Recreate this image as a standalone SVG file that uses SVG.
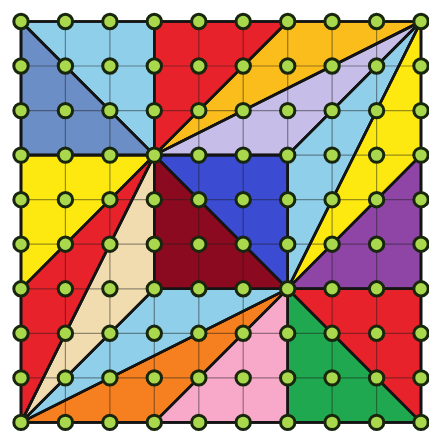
<svg xmlns="http://www.w3.org/2000/svg" width="429" height="434" viewBox="0 0 429 434">
<style>
.e{stroke:#141414;stroke-width:2.6;stroke-linejoin:round}
.g{stroke:#1a1a1a;stroke-opacity:0.45;stroke-width:1.2}
.d{fill:#a9d84c;stroke:#17260c;stroke-width:3}
</style>
<defs>
<circle id="dot" r="7.2" class="d"/>
</defs>
<rect width="429" height="434" fill="#fff"/>
<g id="regions" class="e">
<polygon id="tl-lightblue" points="21,21.5 154.3,21.5 154.3,155.1" fill="#8fcfe9"/>
<polygon id="tl-steel" points="21,21.5 154.3,155.1 21,155.1" fill="#6c8ec6"/>
<polygon id="top-red" points="154.3,21.5 287.7,21.5 154.3,155.1" fill="#e8222b"/>
<polygon id="top-orange" points="287.7,21.5 421,21.5 154.3,155.1" fill="#fbbd1c"/>
<polygon id="lavender" points="154.3,155.1 421,21.5 287.7,155.1" fill="#c6bee8"/>
<polygon id="right-lightblue" points="421,21.5 287.7,155.1 287.7,288.8" fill="#8fcfe9"/>
<polygon id="right-yellow" points="421,21.5 421,155.1 287.7,288.8" fill="#fde910"/>
<polygon id="purple" points="421,155.1 421,288.8 287.7,288.8" fill="#8f45a6"/>
<polygon id="br-red" points="287.7,288.8 421,288.8 421,422.4" fill="#e8222b"/>
<polygon id="br-green" points="287.7,288.8 421,422.4 287.7,422.4" fill="#1fa84f"/>
<polygon id="pink" points="287.7,288.8 287.7,422.4 154.3,422.4" fill="#f8a9c9"/>
<polygon id="bottom-orange" points="21,422.4 154.3,422.4 287.7,288.8" fill="#f6801f"/>
<polygon id="bottom-lightblue" points="21,422.4 287.7,288.8 154.3,288.8" fill="#8fcfe9"/>
<polygon id="beige" points="21,422.4 154.3,288.8 154.3,155.1" fill="#f1dcb0"/>
<polygon id="left-red" points="21,422.4 154.3,155.1 21,288.8" fill="#e8222b"/>
<polygon id="left-yellow" points="21,155.1 154.3,155.1 21,288.8" fill="#fde910"/>
<polygon id="center-blue" points="154.3,155.1 287.7,155.1 287.7,288.8" fill="#3b4bd2"/>
<polygon id="center-darkred" points="154.3,155.1 287.7,288.8 154.3,288.8" fill="#8c0a1f"/>
</g>
<g id="grid" class="g">
<line x1="65.4" y1="21.5" x2="65.4" y2="422.4"/>
<line x1="109.9" y1="21.5" x2="109.9" y2="422.4"/>
<line x1="154.3" y1="21.5" x2="154.3" y2="422.4"/>
<line x1="198.8" y1="21.5" x2="198.8" y2="422.4"/>
<line x1="243.2" y1="21.5" x2="243.2" y2="422.4"/>
<line x1="287.7" y1="21.5" x2="287.7" y2="422.4"/>
<line x1="332.1" y1="21.5" x2="332.1" y2="422.4"/>
<line x1="376.6" y1="21.5" x2="376.6" y2="422.4"/>
<line x1="21" y1="66" x2="421" y2="66"/>
<line x1="21" y1="110.6" x2="421" y2="110.6"/>
<line x1="21" y1="155.1" x2="421" y2="155.1"/>
<line x1="21" y1="199.7" x2="421" y2="199.7"/>
<line x1="21" y1="244.2" x2="421" y2="244.2"/>
<line x1="21" y1="288.8" x2="421" y2="288.8"/>
<line x1="21" y1="333.3" x2="421" y2="333.3"/>
<line x1="21" y1="377.9" x2="421" y2="377.9"/>
</g>
<g id="edges" class="e" fill="none">
<rect x="21" y="21.5" width="400" height="400.9"/>
<polyline points="21,21.5 154.3,155.1 287.7,288.8 421,422.4"/>
<polyline points="154.3,21.5 154.3,288.8"/>
<polyline points="21,155.1 287.7,155.1 287.7,422.4"/>
<polyline points="154.3,288.8 287.7,288.8 421,288.8"/>
<polyline points="287.7,21.5 154.3,155.1 421,21.5 287.7,155.1"/>
<polyline points="421,21.5 287.7,288.8 421,155.1"/>
<polyline points="21,288.8 154.3,155.1 21,422.4 154.3,288.8"/>
<polyline points="21,422.4 287.7,288.8 154.3,422.4"/>
</g>
<g id="dots">
<use href="#dot" x="21" y="21.5"/><use href="#dot" x="65.4" y="21.5"/><use href="#dot" x="109.9" y="21.5"/><use href="#dot" x="154.3" y="21.5"/><use href="#dot" x="198.8" y="21.5"/><use href="#dot" x="243.2" y="21.5"/><use href="#dot" x="287.7" y="21.5"/><use href="#dot" x="332.1" y="21.5"/><use href="#dot" x="376.6" y="21.5"/><use href="#dot" x="421" y="21.5"/>
<use href="#dot" x="21" y="66"/><use href="#dot" x="65.4" y="66"/><use href="#dot" x="109.9" y="66"/><use href="#dot" x="154.3" y="66"/><use href="#dot" x="198.8" y="66"/><use href="#dot" x="243.2" y="66"/><use href="#dot" x="287.7" y="66"/><use href="#dot" x="332.1" y="66"/><use href="#dot" x="376.6" y="66"/><use href="#dot" x="421" y="66"/>
<use href="#dot" x="21" y="110.6"/><use href="#dot" x="65.4" y="110.6"/><use href="#dot" x="109.9" y="110.6"/><use href="#dot" x="154.3" y="110.6"/><use href="#dot" x="198.8" y="110.6"/><use href="#dot" x="243.2" y="110.6"/><use href="#dot" x="287.7" y="110.6"/><use href="#dot" x="332.1" y="110.6"/><use href="#dot" x="376.6" y="110.6"/><use href="#dot" x="421" y="110.6"/>
<use href="#dot" x="21" y="155.1"/><use href="#dot" x="65.4" y="155.1"/><use href="#dot" x="109.9" y="155.1"/><use href="#dot" x="154.3" y="155.1"/><use href="#dot" x="198.8" y="155.1"/><use href="#dot" x="243.2" y="155.1"/><use href="#dot" x="287.7" y="155.1"/><use href="#dot" x="332.1" y="155.1"/><use href="#dot" x="376.6" y="155.1"/><use href="#dot" x="421" y="155.1"/>
<use href="#dot" x="21" y="199.7"/><use href="#dot" x="65.4" y="199.7"/><use href="#dot" x="109.9" y="199.7"/><use href="#dot" x="154.3" y="199.7"/><use href="#dot" x="198.8" y="199.7"/><use href="#dot" x="243.2" y="199.7"/><use href="#dot" x="287.7" y="199.7"/><use href="#dot" x="332.1" y="199.7"/><use href="#dot" x="376.6" y="199.7"/><use href="#dot" x="421" y="199.7"/>
<use href="#dot" x="21" y="244.2"/><use href="#dot" x="65.4" y="244.2"/><use href="#dot" x="109.9" y="244.2"/><use href="#dot" x="154.3" y="244.2"/><use href="#dot" x="198.8" y="244.2"/><use href="#dot" x="243.2" y="244.2"/><use href="#dot" x="287.7" y="244.2"/><use href="#dot" x="332.1" y="244.2"/><use href="#dot" x="376.6" y="244.2"/><use href="#dot" x="421" y="244.2"/>
<use href="#dot" x="21" y="288.8"/><use href="#dot" x="65.4" y="288.8"/><use href="#dot" x="109.9" y="288.8"/><use href="#dot" x="154.3" y="288.8"/><use href="#dot" x="198.8" y="288.8"/><use href="#dot" x="243.2" y="288.8"/><use href="#dot" x="287.7" y="288.8"/><use href="#dot" x="332.1" y="288.8"/><use href="#dot" x="376.6" y="288.8"/><use href="#dot" x="421" y="288.8"/>
<use href="#dot" x="21" y="333.3"/><use href="#dot" x="65.4" y="333.3"/><use href="#dot" x="109.9" y="333.3"/><use href="#dot" x="154.3" y="333.3"/><use href="#dot" x="198.8" y="333.3"/><use href="#dot" x="243.2" y="333.3"/><use href="#dot" x="287.7" y="333.3"/><use href="#dot" x="332.1" y="333.3"/><use href="#dot" x="376.6" y="333.3"/><use href="#dot" x="421" y="333.3"/>
<use href="#dot" x="21" y="377.9"/><use href="#dot" x="65.4" y="377.9"/><use href="#dot" x="109.9" y="377.9"/><use href="#dot" x="154.3" y="377.9"/><use href="#dot" x="198.8" y="377.9"/><use href="#dot" x="243.2" y="377.9"/><use href="#dot" x="287.7" y="377.9"/><use href="#dot" x="332.1" y="377.9"/><use href="#dot" x="376.6" y="377.9"/><use href="#dot" x="421" y="377.9"/>
<use href="#dot" x="21" y="422.4"/><use href="#dot" x="65.4" y="422.4"/><use href="#dot" x="109.9" y="422.4"/><use href="#dot" x="154.3" y="422.4"/><use href="#dot" x="198.8" y="422.4"/><use href="#dot" x="243.2" y="422.4"/><use href="#dot" x="287.7" y="422.4"/><use href="#dot" x="332.1" y="422.4"/><use href="#dot" x="376.6" y="422.4"/><use href="#dot" x="421" y="422.4"/>
</g>
</svg>
